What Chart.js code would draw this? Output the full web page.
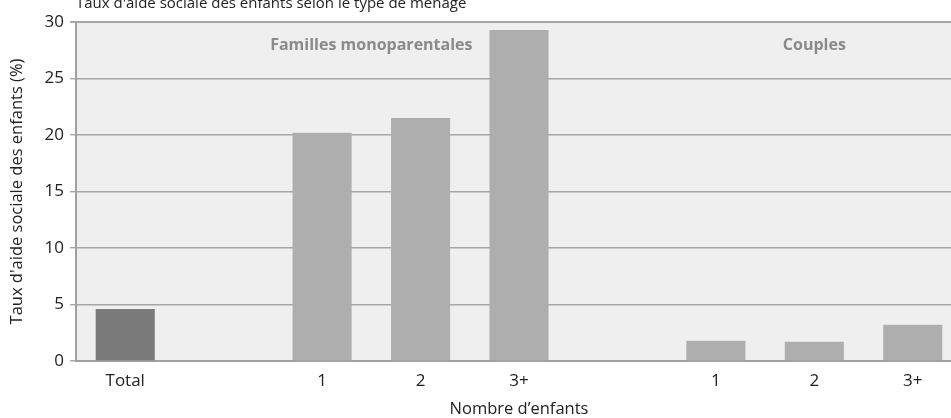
<!DOCTYPE html>
<html>
<head>
<meta charset="utf-8">
<script src="https://cdn.jsdelivr.net/npm/chart.js@4/dist/chart.umd.min.js"></script>
<style>
  html, body { margin: 0; padding: 0; background: #fff; overflow: hidden; width: 951px; height: 418px; }
  #wrap { position: absolute; left: 0; top: 0; width: 962px; height: 418px; }
</style>
</head>
<body>
<div id="wrap"><canvas id="c" width="962" height="418"></canvas></div>
<script>
const chartTitle = "Taux d'aide sociale des enfants selon le type de ménage";
const categories = ['Total', '', '1', '2', '3+', '', '1', '2', '3+'];
const rates = [4.6, null, 20.2, 21.5, 29.3, null, 1.8, 1.7, 3.2];
const groupLabels = ['Familles monoparentales', 'Couples'];
const yTitle = "Taux d'aide sociale des enfants (%)";
const xTitle = "Nombre d’enfants";

const FONT = '"Open Sans", "Noto Sans", sans-serif';

const decor = {
  id: 'decor',
  beforeDraw(chart) {
    const { ctx, chartArea: a } = chart;
    ctx.save();
    ctx.fillStyle = '#efefef';
    ctx.fillRect(a.left, a.top, a.right - a.left, a.bottom - a.top);
    ctx.restore();
  },
  afterDraw(chart) {
    const { ctx, chartArea: a, scales } = chart;
    ctx.save();
    // chart title (cropped at top)
    ctx.font = '15px ' + FONT;
    ctx.fillStyle = '#222';
    ctx.textAlign = 'left';
    ctx.textBaseline = 'alphabetic';
    ctx.fillText(chartTitle, a.left, 8);
    // group labels
    ctx.font = 'bold 16px ' + FONT;
    ctx.fillStyle = '#8a8a8a';
    ctx.textAlign = 'center';
    ctx.textBaseline = 'middle';
    ctx.fillText(groupLabels[0], scales.x.getPixelForValue(2.5), a.top + 23);
    ctx.fillText(groupLabels[1], scales.x.getPixelForValue(7), a.top + 23);
    // x axis title
    ctx.font = '16.5px ' + FONT;
    ctx.fillStyle = '#222';
    ctx.fillText(xTitle, (a.left + a.right) / 2, 409);
    ctx.restore();
  }
};

new Chart(document.getElementById('c'), {
  type: 'bar',
  data: {
    labels: categories,
    datasets: [{
      data: rates,
      backgroundColor: (c) => c.dataIndex === 0 ? '#7a7a7a' : '#aeaeae',
      borderWidth: 0,
      barPercentage: 0.6,
      categoryPercentage: 1.0
    }]
  },
  options: {
    responsive: false,
    animation: false,
    layout: { padding: { top: 22, right: 0, bottom: 0, left: 0 } },
    plugins: { legend: { display: false }, tooltip: { enabled: false }, title: { display: false } },
    scales: {
      x: {
        grid: { display: false, drawTicks: false },
        border: { display: true, color: '#a0a0a0', width: 2 },
        ticks: { color: '#222', font: { family: FONT, size: 17 }, padding: 10, maxRotation: 0, autoSkip: false },
        afterFit: (s) => { s.height = 57; }
      },
      y: {
        min: 0, max: 30,
        ticks: { stepSize: 5, color: '#222', font: { family: FONT, size: 17 }, padding: 6 },
        grid: {
          color: '#a6a6a6',
          lineWidth: (c) => c.tick && c.tick.value === 30 ? 2 : 1.4,
          tickLength: 6
        },
        border: { display: true, color: '#a0a0a0', width: 2 },
        title: { display: true, text: yTitle, color: '#222', font: { family: FONT, size: 16.5 }, padding: { top: 7, bottom: 0 } },
        afterFit: (s) => { s.width = 76; }
      }
    }
  },
  plugins: [decor]
});
</script>
</body>
</html>
